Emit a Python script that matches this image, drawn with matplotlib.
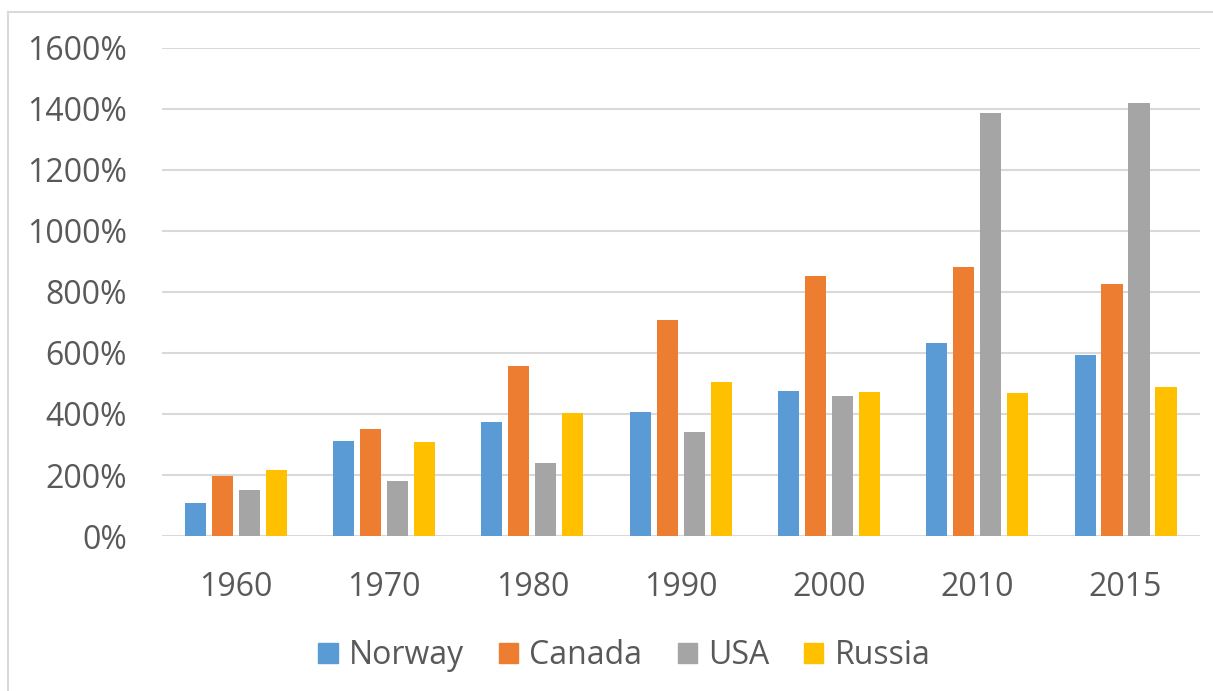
import matplotlib.pyplot as plt
import numpy as np
from matplotlib.lines import Line2D
from matplotlib.patches import Patch
from matplotlib.ticker import FuncFormatter

years = ["1960", "1970", "1980", "1990", "2000", "2010", "2015"]
norway = [109, 311, 373, 408, 474, 634, 593]
canada = [197, 352, 556, 707, 851, 882, 825]
usa = [150, 180, 240, 342, 458, 1386, 1419]
russia = [216, 307, 403, 504, 472, 470, 488]

series = [("Norway", norway, "#5b9bd5"),
          ("Canada", canada, "#ed7d31"),
          ("USA", usa, "#a5a5a5"),
          ("Russia", russia, "#ffc000")]

plt.rcParams['font.family'] = ['Open Sans', 'DejaVu Sans']
text_color = "#595959"
grid_color = "#d9d9d9"

fig = plt.figure(figsize=(12.13, 6.91), dpi=100)
ax = fig.add_axes([0.1333, 0.2243, 0.8557, 0.7063])

x = np.arange(len(years))
pitch = 0.182
width = 0.142
for i, (name, vals, color) in enumerate(series):
    ax.bar(x + (i - 1.5) * pitch, vals, width, color=color, label=name, zorder=3)

ax.set_xlim(-0.5, len(years) - 0.5)
ax.set_ylim(0, 1600)
ax.set_yticks(np.arange(0, 1601, 200))
ax.yaxis.set_major_formatter(FuncFormatter(lambda v, p: f"{v:.0f}%"))
ax.set_xticks(x)
ax.set_xticklabels(years)

ax.grid(axis="y", color=grid_color, linewidth=1.5, zorder=0)
for s in ["top", "right", "left", "bottom"]:
    ax.spines[s].set_visible(False)
ax.tick_params(axis="both", length=0, labelsize=23, colors=text_color)
ax.tick_params(axis="y", pad=25)
ax.tick_params(axis="x", pad=25)

handles = [Patch(color=c, label=n) for n, _, c in series]
fig.legend(handles=handles, loc="center", bbox_to_anchor=(624.5 / 1213, 1 - 656 / 691),
           ncol=4, frameon=False, fontsize=23, labelcolor=text_color,
           handlelength=0.6, handleheight=0.6, handletextpad=0.35,
           columnspacing=1.1, borderpad=0)

# chart frame (partly cropped in the original)
fig.add_artist(Line2D([8 / 1213, 8 / 1213], [0, 1 - 12 / 691], transform=fig.transFigure,
                      color=grid_color, linewidth=1.5))
fig.add_artist(Line2D([8 / 1213, 1], [1 - 12 / 691, 1 - 12 / 691], transform=fig.transFigure,
                      color=grid_color, linewidth=1.5))

fig.savefig("out.png", dpi=100)
